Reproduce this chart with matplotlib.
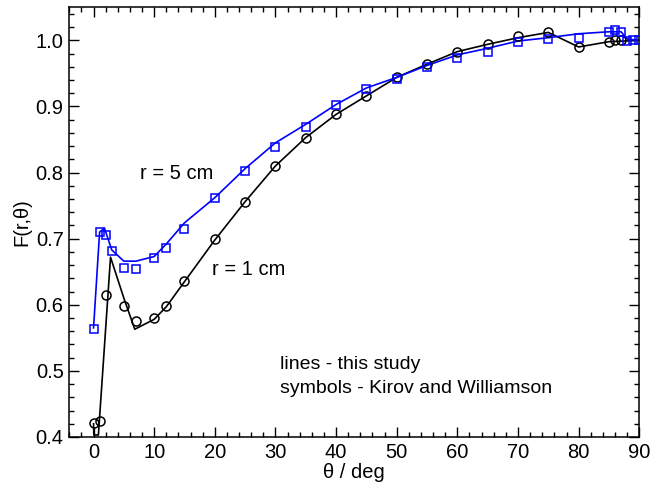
import matplotlib
matplotlib.use("Agg")
import matplotlib.pyplot as plt
from matplotlib.ticker import MultipleLocator

plt.rcParams['font.family'] = ['Liberation Sans', 'DejaVu Sans']

# lines - this study
theta_line_1cm = [0, 0.05, 0.8, 2.8, 5, 6.8, 10, 12, 15, 20, 25, 30, 35, 40, 45, 50,
                  55, 60, 65, 70, 75, 80, 85, 90]
F_line_1cm = [0.420, 0.403, 0.403, 0.672, 0.610, 0.563, 0.578, 0.597, 0.635, 0.698,
              0.756, 0.810, 0.853, 0.888, 0.916, 0.944, 0.964, 0.983, 0.994, 1.004,
              1.012, 0.990, 0.998, 1.000]

theta_line_5cm = [0, 1, 1.8, 3, 5, 7, 10, 12, 15, 20, 25, 30, 35, 40, 45, 50, 55, 60,
                  65, 70, 75, 80, 85, 87, 88, 90]
F_line_5cm = [0.565, 0.710, 0.716, 0.683, 0.666, 0.666, 0.673, 0.692, 0.724, 0.762,
              0.806, 0.845, 0.873, 0.903, 0.928, 0.944, 0.962, 0.978, 0.988, 0.999,
              1.004, 1.010, 1.013, 1.013, 1.002, 1.000]

# symbols - Kirov and Williamson
theta_kw_1cm = [0, 1, 2, 5, 7, 10, 12, 15, 20, 25, 30, 35, 40, 45, 50, 55, 60, 65, 70,
                75, 80, 85, 86, 87]
F_kw_1cm = [0.421, 0.424, 0.615, 0.598, 0.576, 0.580, 0.598, 0.636, 0.699, 0.756,
            0.810, 0.853, 0.888, 0.916, 0.944, 0.964, 0.983, 0.994, 1.006, 1.013,
            0.990, 0.998, 1.000, 1.000]

theta_kw_5cm = [0, 1, 2, 3, 5, 7, 10, 12, 15, 20, 25, 30, 35, 40, 45, 50, 55, 60, 65,
                70, 75, 80, 85, 86, 87, 88, 89, 90]
F_kw_5cm = [0.563, 0.710, 0.706, 0.681, 0.656, 0.654, 0.671, 0.686, 0.715, 0.761,
            0.803, 0.838, 0.869, 0.902, 0.926, 0.942, 0.959, 0.974, 0.983, 0.997,
            1.002, 1.004, 1.013, 1.015, 1.013, 0.999, 1.001, 1.001]

fig = plt.figure(figsize=(6.5, 4.87), dpi=100)
ax = fig.add_axes([0.1066, 0.1027, 0.8769, 0.8823])

blue = '#0000ff'
ax.plot(theta_line_1cm, F_line_1cm, color='black', lw=1.2, zorder=2)
ax.plot(theta_line_5cm, F_line_5cm, color=blue, lw=1.2, zorder=2)
ax.plot(theta_kw_1cm, F_kw_1cm, ls='none', marker='o', ms=6.5, mfc='none',
        mec='black', mew=1.1, zorder=3)
ax.plot(theta_kw_5cm, F_kw_5cm, ls='none', marker='s', ms=5.5, mfc='none',
        mec=blue, mew=1.1, zorder=4)

ax.set_xlim(-4, 90)
ax.set_ylim(0.4, 1.05)
ax.xaxis.set_major_locator(MultipleLocator(10))
ax.xaxis.set_minor_locator(MultipleLocator(2))
ax.yaxis.set_major_locator(MultipleLocator(0.1))
ax.yaxis.set_minor_locator(MultipleLocator(0.02))
ax.yaxis.set_major_formatter(plt.FuncFormatter(lambda v, p: f"{v:.1f}"))

ax.tick_params(which='both', direction='in', top=True, right=True,
               labelsize=14.5, width=1.0)
ax.tick_params(which='major', length=7, pad=4)
ax.tick_params(which='minor', length=3.5)
for s in ax.spines.values():
    s.set_linewidth(1.1)

ax.set_xlabel("θ / deg", fontsize=14.5, labelpad=1)
ax.set_ylabel("F(r,θ)", fontsize=14.5, labelpad=3)

ax.text(7.6, 0.798, "r = 5 cm", fontsize=14.5, va='center', ha='left')
ax.text(19.6, 0.654, "r = 1 cm", fontsize=14.5, va='center', ha='left')
ax.text(30.7, 0.509, "lines - this study", fontsize=14, va='center', ha='left')
ax.text(30.7, 0.474, "symbols - Kirov and Williamson", fontsize=14, va='center', ha='left')

fig.savefig("out.png", dpi=100)
